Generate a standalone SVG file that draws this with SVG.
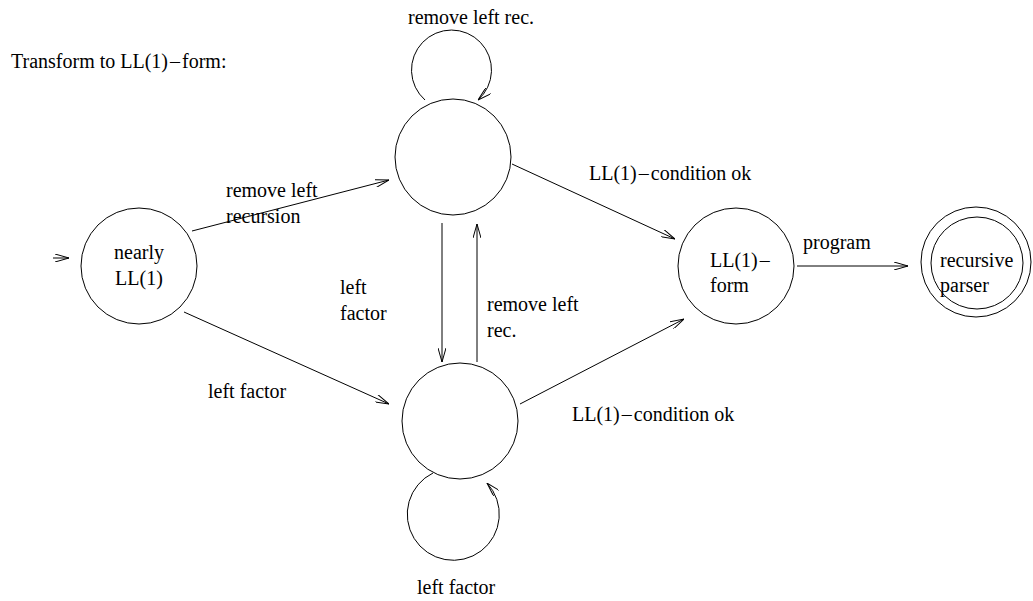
<svg xmlns="http://www.w3.org/2000/svg" width="1033" height="601" viewBox="0 0 1033 601">
<style>
text{font-family:"Liberation Serif","Times New Roman",serif;font-size:20px;fill:#000}
.n{fill:none;stroke:#000;stroke-width:1}
.e{fill:none;stroke:#000;stroke-width:1;marker-end:url(#a)}
</style>
<defs>
<marker id="a" markerUnits="userSpaceOnUse" viewBox="0 0 14 8" refX="14" refY="4" markerWidth="14" markerHeight="8" orient="auto">
<path d="M0,0 L14,4 L0,8" fill="none" stroke="#000" stroke-width="1"/>
</marker>
</defs>
<rect width="1033" height="601" fill="#fff"/>
<text x="11" y="68">Transform to LL(1)<tspan dx="2">–</tspan><tspan dx="2">form:</tspan></text>
<g id="nearly">
<circle class="n" cx="139" cy="266" r="58"/>
<text x="139" y="259" text-anchor="middle">nearly</text>
<text x="139" y="285" text-anchor="middle">LL(1)</text>
</g>
<g id="top">
<circle class="n" cx="453" cy="157" r="58"/>
</g>
<g id="bottom">
<circle class="n" cx="460" cy="421" r="58"/>
</g>
<g id="ll1form">
<circle class="n" cx="736" cy="266" r="58"/>
<text x="710" y="267">LL(1)<tspan dx="2">–</tspan></text>
<text x="710" y="292">form</text>
</g>
<g id="parser">
<circle class="n" cx="976" cy="262" r="55"/>
<circle class="n" cx="977" cy="263" r="46"/>
<text x="940" y="267">recursive</text>
<text x="940" y="292">parser</text>
</g>
<g id="connectors">
<path class="e" d="M53,258 L69,258"/>
<path class="e" d="M192,231 L389,180"/>
<path class="e" d="M184,312 L389,404"/>
<path class="e" d="M425,100 A40,40 0 1,1 478,100"/>
<path class="e" d="M442,223 L442,362"/>
<path class="e" d="M477,362 L477,224"/>
<path class="e" d="M433,473 A46,46 0 1,0 487,483"/>
<path class="e" d="M512,164 L675,239"/>
<path class="e" d="M520,404 L684,319"/>
<path class="e" d="M797,266 L908,266"/>
</g>
<g id="labels">
<text x="408" y="24">remove left rec.</text>
<text x="226" y="197">remove left</text>
<text x="226" y="223">recursion</text>
<text x="208" y="398">left factor</text>
<text x="340" y="294">left</text>
<text x="340" y="320">factor</text>
<text x="487" y="311">remove left</text>
<text x="487" y="337">rec.</text>
<text x="589" y="180">LL(1)<tspan dx="2">–</tspan><tspan dx="2">condition ok</tspan></text>
<text x="572" y="421">LL(1)<tspan dx="2">–</tspan><tspan dx="2">condition ok</tspan></text>
<text x="803" y="249">program</text>
<text x="417" y="594">left factor</text>
</g>
</svg>
